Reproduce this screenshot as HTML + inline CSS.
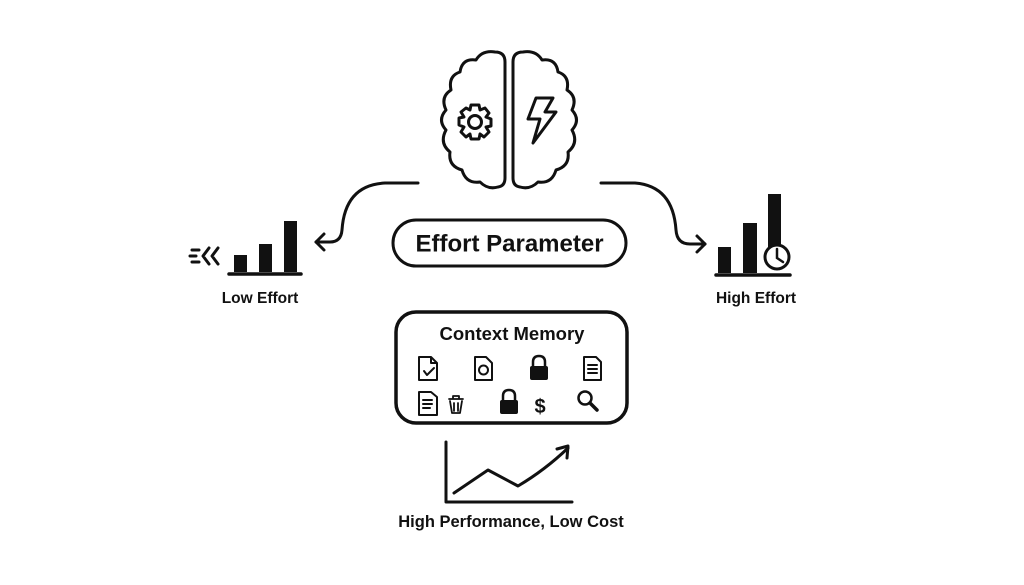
<!DOCTYPE html>
<html><head><style>
html,body{margin:0;padding:0;background:#fff;}
svg{display:block;}
text{font-family:"Liberation Sans",Arial,sans-serif;font-weight:bold;fill:#111;}
</style></head><body>
<svg width="1024" height="585" viewBox="0 0 1024 585" xmlns="http://www.w3.org/2000/svg">
<rect width="1024" height="585" fill="#fff"/>
<g fill="none" stroke="#111" stroke-width="3" stroke-linecap="round" stroke-linejoin="round">
<path d="M505,62 Q505,52 495,52 Q482,50 476,60 Q462,58 460,72 Q448,76 451,90 Q440,97 446,110 Q437,120 446,130 Q439,143 450,152 Q448,166 462,170 Q466,184 480,182 Q488,190 498,187 Q505,186 505,178 Z"/>
<path d="M513,62 Q513,52 523,52 Q536,50 542,60 Q556,58 558,72 Q570,76 567,90 Q578,97 572,110 Q581,120 572,130 Q579,143 568,152 Q570,166 556,170 Q552,184 538,182 Q530,190 520,187 Q513,186 513,178 Z"/>
<circle cx="475" cy="122" r="6.5"/>
<path d="M471,105 L479,105 L480,110 L485,108 L489,113 L486,117 L491,119 L491,126 L486,127 L489,132 L484,137 L480,134 L479,139 L471,139 L470,134 L466,137 L461,132 L464,127 L459,125 L459,118 L464,117 L461,112 L466,108 L470,110 Z"/>
<path d="M536,98 L553,98 L545,112 L556,112 L533,143 L540,119 L528,119 Z"/>
<path d="M418,183 L385,183 Q345,185 342,230 Q341,242 330,242 L316,242"/>
<path d="M324,234 L316,242 L324,250"/>
<path d="M601,183 L635,183 Q673,186 676,230 Q677,244 690,244 L705,244"/>
<path d="M697,236 L705,244 L697,252"/>
<rect x="393" y="220" width="233" height="46" rx="23"/>
<path d="M192,250 L199,250 M190,256 L196,256 M192,262 L199,262 M209,248 L203,256 L209,264 M218,248 L212,256 L218,264"/>
<path d="M229,274 L301,274 M716,275 L790,275" stroke-width="3.5"/>
<rect x="396" y="312" width="231" height="111" rx="20" stroke-width="3.5"/>
<path d="M446,442 L446,502 L572,502"/>
<path d="M454,493 L488,470 L518,486 Q545,470 568,448"/>
<path d="M557,449 L568,446 L567,458"/>
<path d="M419,357 L431,357 L437,363 L437,380 L419,380 Z M431,357 L431,363 L437,363" stroke-width="2"/>
<path d="M424,371 L427,375 L434,368" stroke-width="2"/>
<path d="M475,357 L486,357 L492,363 L492,380 L475,380 Z" stroke-width="2"/>
<circle cx="483.5" cy="370" r="4.5" stroke-width="2"/>
<path d="M584,357 L596,357 L601,362 L601,380 L584,380 Z M588,365 L597,365 M588,369 L597,369 M588,373 L597,373" stroke-width="2"/>
<path d="M419,392 L431,392 L437,397 L437,415 L419,415 Z M423,400 L432,400 M423,404 L432,404 M423,408 L430,408" stroke-width="2"/>
<path d="M449,399 L463,399 M453,399 L453,396 L459,396 L459,399 M450,401 L452,413 L460,413 L462,401 M454,403 L454,411 M458,403 L458,411" stroke-width="1.8"/>
<path d="M533,367 L533,362 Q533,356 539,356 Q545,356 545,362 L545,367" stroke-width="2.5"/>
<path d="M503,401 L503,396 Q503,390 509,390 Q515,390 515,396 L515,401" stroke-width="2.5"/>
<circle cx="585" cy="398" r="6.5" stroke-width="2.5"/>
<path d="M590,403 L597,410" stroke-width="3.5"/>
</g>
<g fill="#111">
<rect x="234" y="255" width="13" height="17"/>
<rect x="259" y="244" width="13" height="28"/>
<rect x="284" y="221" width="13" height="51"/>
<rect x="718" y="247" width="13" height="26"/>
<rect x="743" y="223" width="14" height="50"/>
<rect x="768" y="194" width="13" height="58"/>
<rect x="530" y="366" width="18" height="14" rx="2"/>
<rect x="500" y="400" width="18" height="14" rx="2"/>
</g>
<circle cx="777" cy="257" r="12" fill="#fff" stroke="#111" stroke-width="3"/>
<path d="M777,249 L777,258 L783,262" fill="none" stroke="#111" stroke-width="2.5" stroke-linecap="round"/>
<text x="509.5" y="251.5" font-size="24" text-anchor="middle">Effort Parameter</text>
<text x="260" y="303" font-size="15.5" text-anchor="middle">Low Effort</text>
<text x="756" y="303" font-size="15.5" text-anchor="middle">High Effort</text>
<text x="512" y="340" font-size="18.5" text-anchor="middle">Context Memory</text>
<text x="540" y="413" font-size="20" text-anchor="middle" font-weight="normal">$</text>
<text x="511" y="527" font-size="16.5" text-anchor="middle">High Performance, Low Cost</text>
</svg>
</body></html>
